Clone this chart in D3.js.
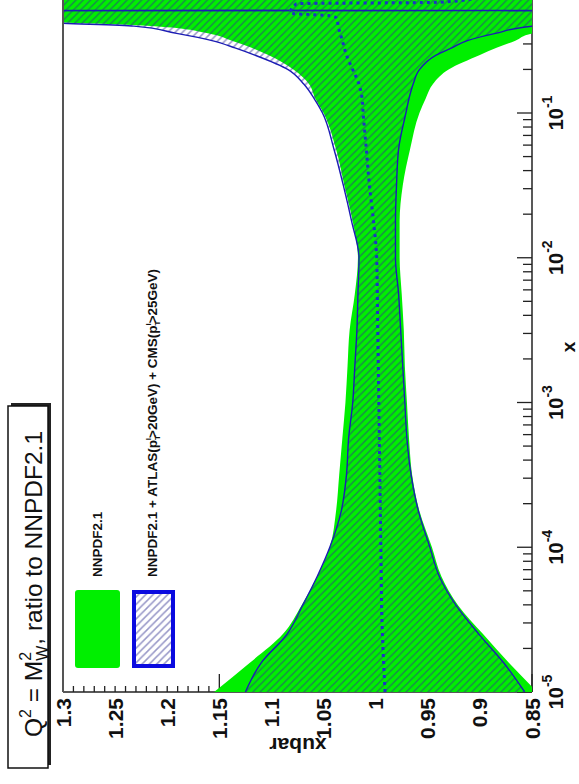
<!DOCTYPE html>
<html>
<head>
<meta charset="utf-8">
<script src="https://cdn.jsdelivr.net/npm/d3@7"></script>
<style>
  html, body { margin: 0; padding: 0; background: #fff; }
  svg { display: block; font-family: "Liberation Sans", Arial, Helvetica, sans-serif; }
</style>
</head>
<body>
<svg id="chart" width="579" height="784"></svg>
<script>
// ---- data: xubar ratio to NNPDF2.1 at Q^2 = M_W^2 ----
// common x grid of the bands
const gridX = [1e-5, 1.585e-5, 2.512e-5, 3.981e-5, 6.310e-5,
               1e-4, 1.778e-4, 3.162e-4, 5.623e-4,
               1e-3, 1.778e-3, 3.162e-3, 5.623e-3,
               1e-2, 1.778e-2, 3.162e-2, 5.623e-2,
               0.1, 0.1259, 0.1585, 0.1995, 0.2512, 0.2818, 0.3162, 0.3548, 0.3981];

// NNPDF2.1 uncertainty band (green)
const nnpdfX  = gridX.concat([0.4217, 0.4467, 0.5012, 1.0]);
const nnpdfUp = [1.155, 1.121, 1.089, 1.071, 1.056, 1.044, 1.038, 1.035, 1.032, 1.029,
                 1.027, 1.025, 1.020, 1.017, 1.022, 1.030, 1.038, 1.050, 1.058, 1.064,
                 1.079, 1.103, 1.119, 1.138, 1.160, 1.212, 1.300, 1.400, 1.600, 1.600];
const nnpdfLo = [0.845, 0.872, 0.897, 0.921, 0.937, 0.946, 0.958, 0.965, 0.968, 0.970,
                 0.972, 0.973, 0.975, 0.977, 0.977, 0.974, 0.967, 0.958, 0.952, 0.945,
                 0.930, 0.900, 0.884, 0.866, 0.850, 0.800, 0.750, 0.700, 0.600, 0.600];

// NNPDF2.1 + ATLAS + CMS band (hatched, blue edges)
const fitX  = gridX.concat([0.4169, 0.4467, 0.508, 0.513, 1.0]);
const fitUp = [1.125, 1.110, 1.085, 1.070, 1.056, 1.044, 1.033, 1.028, 1.026, 1.022,
               1.020, 1.018, 1.017, 1.016, 1.023, 1.031, 1.040, 1.051, 1.059, 1.069,
               1.084, 1.116, 1.135, 1.157, 1.191, 1.232, 1.300, 1.400, 1.450, 0.600, 0.600];
const fitLo = [0.857, 0.877, 0.901, 0.923, 0.939, 0.948, 0.959, 0.966, 0.970, 0.972,
               0.974, 0.976, 0.978, 0.981, 0.981, 0.980, 0.978, 0.971, 0.968, 0.964,
               0.958, 0.942, 0.927, 0.912, 0.885, 0.849, 0.800, 0.760, 0.750, 1.600, 1.600];

// central value of the reweighted set (dotted)
const midX   = [1e-5, 3.162e-5, 1e-4, 3.162e-4, 1e-3, 3.162e-3, 1e-2, 1.778e-2, 3.162e-2,
                5.623e-2, 0.1, 0.1259, 0.1585, 0.1995, 0.2512, 0.3162, 0.3548, 0.3981,
                0.4467, 0.4677, 0.4898, 0.5689, 0.5821, 0.631];
const midVal = [0.991, 0.994, 0.995, 0.996, 0.997, 0.998, 0.999, 1.002, 1.006,
                1.009, 1.012, 1.013, 1.016, 1.022, 1.028, 1.032, 1.034, 1.036,
                1.037, 1.041, 1.082, 1.076, 0.938, 0.900];

// axis labels
const ratioTicks   = [1.3, 1.25, 1.2, 1.15, 1.1, 1.05, 1, 0.95, 0.9, 0.85];
const ratioLabels  = ["1.3", "1.25", "1.2", "1.15", "1.1", "1.05", "1", "0.95", "0.9", "0.85"];
const decadeExp    = [-5, -4, -3, -2, -1];

const legendLabels = ["NNPDF2.1", "NNPDF2.1 + ATLAS(p", ">20GeV) + CMS(p", ">25GeV)"];
const titleParts   = ["Q", "2", " = M", "W", "2", ", ratio to NNPDF2.1"];

// ---- drawing ----
const svg = d3.select("#chart");
const W = 723.75, H = 469;           // frame (landscape), drawn turned a quarter counter-clockwise
const GREEN = "#00ef00", BLUE = "#1c1cb4", DOT = "#1b34c4";

const x = d3.scaleLog().domain([1e-5, 1]).range([0, W]);
const y = d3.scaleLinear().domain([0.85, 1.3]).range([H, 0]);

const defs = svg.append("defs");
defs.append("clipPath").attr("id", "frameClip")
  .append("rect").attr("x", 0).attr("y", 0).attr("width", W).attr("height", H);

const s = 7.3;
const pat = defs.append("pattern").attr("id", "hatch")
  .attr("patternUnits", "userSpaceOnUse").attr("width", s).attr("height", s);
pat.append("path")
  .attr("d", `M0,0L${s},${s}M${-s/4},${3*s/4}L${s/4},${5*s/4}M${3*s/4},${-s/4}L${5*s/4},${s/4}`)
  .attr("stroke", "#303090").attr("stroke-opacity", 0.5).attr("stroke-width", 1.5);

const g = svg.append("g").attr("transform", "translate(63,692) rotate(-90)");

// ratio axis (frame left side)
g.append("line").attr("x1", 0).attr("x2", 0).attr("y1", 0).attr("y2", H)
  .attr("stroke", "#222").attr("stroke-width", 1.5);
const isMajor = v => Math.abs(v * 20 - Math.round(v * 20)) < 1e-6;
g.append("g").selectAll("line").data(y.ticks(45)).join("line")
  .attr("x1", 0).attr("x2", d => isMajor(d) ? 18 : 9)
  .attr("y1", d => y(d)).attr("y2", d => y(d))
  .attr("stroke", "#222").attr("stroke-width", 1.3);
g.append("g").selectAll("text").data(ratioTicks).join("text")
  .attr("x", -6).attr("y", d => y(d))
  .attr("text-anchor", "end").attr("dominant-baseline", "central")
  .attr("font-size", 21).attr("font-weight", "bold").attr("fill", "#111")
  .text((d, i) => ratioLabels[i]);

// x axis (frame bottom side)
g.append("line").attr("x1", 0).attr("x2", W).attr("y1", H).attr("y2", H)
  .attr("stroke", "#222").attr("stroke-width", 1.5);
g.append("g").selectAll("line").data(x.ticks()).join("line")
  .attr("x1", d => x(d)).attr("x2", d => x(d))
  .attr("y1", H).attr("y2", d => Number.isInteger(Math.round(Math.log10(d) * 1e6) / 1e6) ? H - 15 : H - 9)
  .attr("stroke", "#222").attr("stroke-width", 1.3);
const xl = g.append("g").selectAll("text").data(decadeExp).join("text")
  .attr("x", d => x(Math.pow(10, d))).attr("y", H + 31)
  .attr("text-anchor", "middle").attr("font-size", 20).attr("font-weight", "bold").attr("fill", "#111");
xl.append("tspan").text("10");
xl.append("tspan").attr("dy", -11).attr("font-size", 14).text(d => String(d));

// axis titles
g.append("text").attr("x", 345).attr("y", H + 36)
  .attr("text-anchor", "middle").attr("dominant-baseline", "central")
  .attr("font-size", 19).attr("font-weight", "bold").attr("fill", "#111").text("x");
g.append("text").attr("transform", "translate(-53,235) rotate(-90)")
  .attr("text-anchor", "middle").attr("dominant-baseline", "central")
  .attr("font-size", 21).attr("font-weight", "bold").attr("fill", "#111").text("xubar");

// bands and curves
const plot = g.append("g").attr("clip-path", "url(#frameClip)");
const band = (xs, lo, up) => xs.map((v, i) => [v, lo[i], up[i]]);
const area = d3.area().x(d => x(d[0])).y0(d => y(d[1])).y1(d => y(d[2])).curve(d3.curveMonotoneX);
const line = d3.line().x(d => x(d[0])).y(d => y(d[1])).curve(d3.curveMonotoneX);

plot.append("path").datum(band(nnpdfX, nnpdfLo, nnpdfUp)).attr("d", area).attr("fill", GREEN);
plot.append("path").datum(band(fitX, fitLo, fitUp)).attr("d", area).attr("fill", "url(#hatch)");
plot.append("path").datum(fitX.map((v, i) => [v, fitUp[i]])).attr("d", line)
  .attr("fill", "none").attr("stroke", BLUE).attr("stroke-width", 1.4);
plot.append("path").datum(fitX.map((v, i) => [v, fitLo[i]])).attr("d", line)
  .attr("fill", "none").attr("stroke", BLUE).attr("stroke-width", 1.4);
plot.append("path").datum(midX.map((v, i) => [v, midVal[i]])).attr("d", line)
  .attr("fill", "none").attr("stroke", DOT).attr("stroke-width", 3)
  .attr("stroke-dasharray", "3,4");

// frame top side
g.append("line").attr("x1", 0).attr("x2", W).attr("y1", 0).attr("y2", 0)
  .attr("stroke", "#555").attr("stroke-width", 2);

// legend
const leg = g.append("g");
leg.append("rect").attr("x", 6).attr("y", 2).attr("width", 434).attr("height", 148).attr("fill", "#fff");
leg.append("rect").attr("x", 24).attr("y", 12).attr("width", 78).attr("height", 45).attr("rx", 3)
  .attr("fill", GREEN);
leg.append("rect").attr("x", 26).attr("y", 71).attr("width", 74).attr("height", 39)
  .attr("fill", "url(#hatch)").attr("stroke", "#0a0ae0").attr("stroke-width", 4);
leg.append("text").attr("x", 115).attr("y", 39).attr("font-size", 13.5).attr("font-weight", "bold")
  .attr("fill", "#111").text(legendLabels[0]);
const t2 = leg.append("text").attr("x", 115).attr("y", 94).attr("font-size", 13.5)
  .attr("font-weight", "bold").attr("fill", "#111");
t2.append("tspan").text(legendLabels[1]);
t2.append("tspan").attr("dy", 3).attr("font-size", 8).text("T");
t2.append("tspan").attr("dx", -5).attr("dy", -9).attr("font-size", 8).text("l");
t2.append("tspan").attr("dy", 6).text(legendLabels[2]);
t2.append("tspan").attr("dy", 3).attr("font-size", 8).text("T");
t2.append("tspan").attr("dx", -5).attr("dy", -9).attr("font-size", 8).text("l");
t2.append("tspan").attr("dy", 6).text(legendLabels[3]);

// title box with shadow
const tb = g.append("g");
tb.append("rect").attr("x", -73).attr("y", -52).attr("width", 362).attr("height", 40).attr("fill", "#222");
tb.append("rect").attr("x", -76).attr("y", -55).attr("width", 362).attr("height", 40)
  .attr("fill", "#fff").attr("stroke", "#111").attr("stroke-width", 1.5);
const tt = tb.append("text").attr("x", 108).attr("y", -21).attr("text-anchor", "middle")
  .attr("font-size", 24.5).attr("fill", "#111");
tt.append("tspan").text(titleParts[0]);
tt.append("tspan").attr("dy", -11).attr("font-size", 16).text(titleParts[1]);
tt.append("tspan").attr("dy", 11).text(titleParts[2]);
tt.append("tspan").attr("dy", 6).attr("font-size", 16).text(titleParts[3]);
tt.append("tspan").attr("dx", -15).attr("dy", -17).attr("font-size", 16).text(titleParts[4]);
tt.append("tspan").attr("dx", 7).attr("dy", 11).text(titleParts[5]);
</script>
</body>
</html>
